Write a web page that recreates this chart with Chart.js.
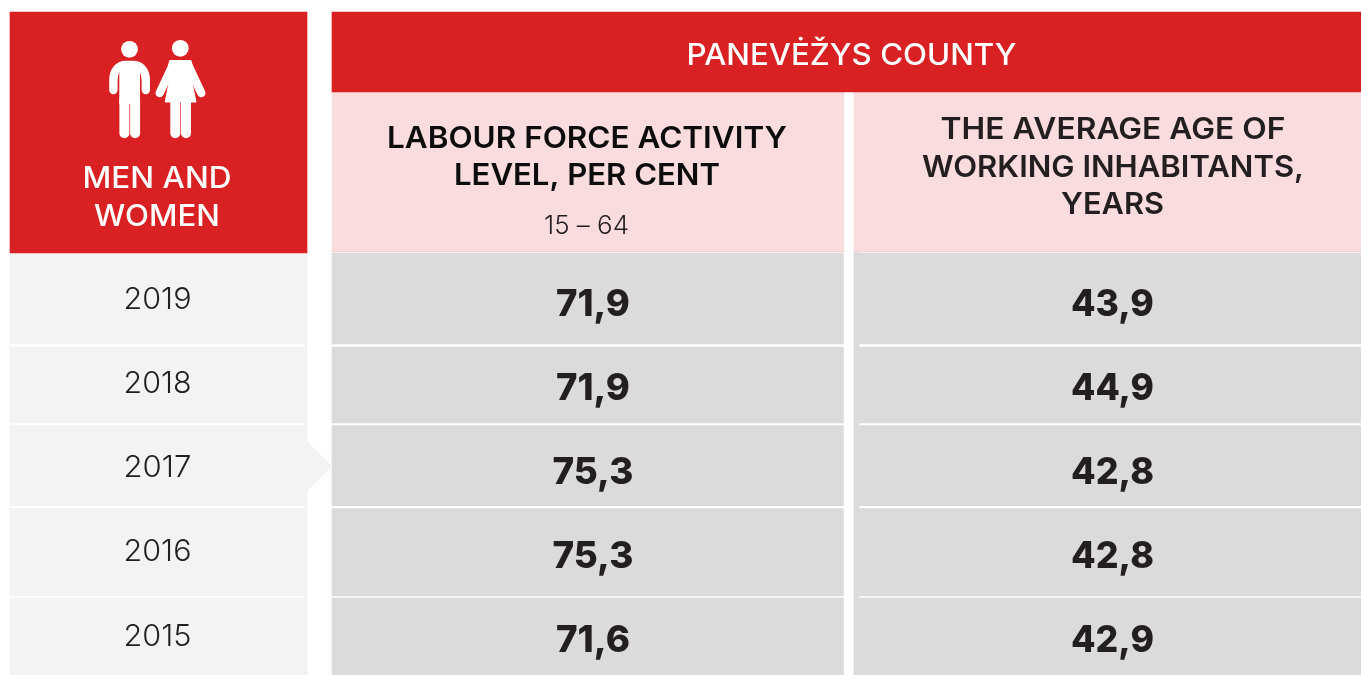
<!DOCTYPE html>
<html><head><meta charset="utf-8">
<style>html,body{margin:0;padding:0;background:#fff}canvas{display:block}</style>
<script src="https://cdn.jsdelivr.net/npm/chart.js@4/dist/chart.umd.min.js"></script>
</head><body><canvas id="c" width="1361" height="675"></canvas>
<script>
// ---- data ----
const years = ['2019','2018','2017','2016','2015'];
const labourForce = [71.9,71.9,75.3,75.3,71.6];
const averageAge = [43.9,44.9,42.8,42.8,42.9];
const regionTitle = 'PANEVĖŽYS COUNTY';
const cornerTitle = ['MEN AND','WOMEN'];
const labourTitle = ['LABOUR FORCE ACTIVITY','LEVEL, PER CENT'];
const labourRange = '15 – 64';
const ageTitle = ['THE AVERAGE AGE OF','WORKING INHABITANTS,','YEARS'];
// ---- layout (canvas-sized scales) ----
const rowSpans = [[253,344],[347,423],[425.7,505.7],[508.5,596],[598,675]];
const yearBase = [309,393,477,561,645.5];
const valueBase = [315.5,399.5,483.5,567.5,651.5];
const FONT = 'Inter, sans-serif';
const RED='#d92123', PINK='#f9dcdd', GREY='#dbdbdb', LIGHT='#f3f3f3', INK='#231f20';
const fmt = v => v.toFixed(1).replace('.',',');
function cols(l,r,spans,color){
  return {data:spans.map(s=>({x:(l+r)/2,y:s})),barThickness:r-l,backgroundColor:color,grouped:false,borderWidth:0,borderSkipped:false};
}
const datasets = [
  cols(10,307,[[12,253]],RED),
  cols(10,305,rowSpans,LIGHT),
  cols(305,307,[[253,675]],LIGHT),
  cols(332,1361,[[12,92]],RED),
  cols(332,844,[[92,252]],PINK),
  cols(854,1361,[[92,252]],PINK),
  cols(332,843.4,rowSpans,GREY),
  cols(854,859,[[252,675]],GREY),
  cols(859,1361,rowSpans,GREY)
];
function fit(ctx,text,cx,base,w,font,color){
  ctx.save();ctx.font=font;ctx.fillStyle=color;ctx.textAlign='left';ctx.textBaseline='alphabetic';
  const m=ctx.measureText(text).width;
  ctx.translate(cx-w/2,base);ctx.scale(w/m,1);ctx.fillText(text,0,0);ctx.restore();
}
const tablePlugin={id:'table',
  afterDatasetsDraw(chart){
    const {ctx,scales:{x,y}}=chart;
    const X=v=>x.getPixelForValue(v),Y=v=>y.getPixelForValue(v);
    // pointer on the middle row
    ctx.fillStyle=LIGHT;ctx.beginPath();ctx.moveTo(X(307),Y(441));ctx.lineTo(X(332),Y(466));ctx.lineTo(X(307),Y(491));ctx.closePath();ctx.fill();
    // pink bottom hairline
    ctx.fillStyle='#f6d3d4';ctx.fillRect(X(332),Y(251),X(844)-X(332),1);ctx.fillRect(X(854),Y(251),X(1361)-X(854),1);
    // people icon
    ctx.fillStyle='#fff';ctx.strokeStyle='#fff';ctx.lineCap='round';ctx.lineJoin='round';
    const dot=(cx,cy,r)=>{ctx.beginPath();ctx.arc(cx,cy,r,0,Math.PI*2);ctx.fill();};
    dot(129.5,49.3,8.4);dot(180.3,48.3,8.4);
    ctx.lineWidth=8.4;ctx.beginPath();ctx.moveTo(113.4,90);ctx.lineTo(113.4,80);ctx.bezierCurveTo(113.4,70,119,65,126,65);ctx.lineTo(133,65);ctx.bezierCurveTo(140,65,145.8,70,145.8,80);ctx.lineTo(145.8,90);ctx.stroke();
    ctx.fillRect(119.3,62,20.7,42);
    ctx.lineWidth=10;[124.4,135.1].forEach(lx=>{ctx.beginPath();ctx.moveTo(lx,100);ctx.lineTo(lx,133.3);ctx.stroke();});
    ctx.lineWidth=8.4;[[159.7,93,172.8,65],[201.3,93,188.2,65]].forEach(a=>{ctx.beginPath();ctx.moveTo(a[0],a[1]);ctx.lineTo(a[2],a[3]);ctx.stroke();});
    ctx.lineWidth=1;ctx.beginPath();ctx.moveTo(170,60.5);ctx.lineTo(191,60.5);ctx.lineTo(193,70);ctx.lineTo(190.5,75);ctx.lineTo(196,102);ctx.lineTo(165.2,102);ctx.lineTo(170.5,75);ctx.lineTo(168,70);ctx.closePath();ctx.fill();ctx.stroke();
    ctx.lineWidth=10;[175.3,186].forEach(lx=>{ctx.beginPath();ctx.moveTo(lx,100);ctx.lineTo(lx,133.3);ctx.stroke();});
    // headers
    const H='550 30px '+FONT, B='600 30.5px '+FONT;
    fit(ctx,regionTitle,X(851.5),Y(65),330,H,'#fff');
    fit(ctx,cornerTitle[0],X(157),Y(188),149,H,'#fff');
    fit(ctx,cornerTitle[1],X(157),Y(226),126,H,'#fff');
    fit(ctx,labourTitle[0],X(587),Y(147.5),400,B,'#0d0d0d');
    fit(ctx,labourTitle[1],X(587),Y(184.5),266,B,'#0d0d0d');
    fit(ctx,labourRange,X(586.5),Y(234),85,'350 25px '+FONT,INK);
    fit(ctx,ageTitle[0],X(1113),Y(139),345,B,INK);
    fit(ctx,ageTitle[1],X(1113),Y(177),382,B,INK);
    fit(ctx,ageTitle[2],X(1112.5),Y(214),103,B,INK);
    // body cells
    years.forEach((t,i)=>{
      fit(ctx,t,X(157.5),Y(yearBase[i]),68,'350 30px '+FONT,INK);
      fit(ctx,fmt(labourForce[i]),X(593),Y(valueBase[i]),labourForce[i]>75?81:74,'800 37.5px '+FONT,INK);
      fit(ctx,fmt(averageAge[i]),X(1112.5),Y(valueBase[i]),83,'800 37.5px '+FONT,INK);
    });
  }
};
new Chart(document.getElementById('c'),{
  type:'bar',
  data:{datasets},
  plugins:[tablePlugin],
  options:{
    responsive:false,animation:false,devicePixelRatio:1,
    layout:{padding:0},
    plugins:{legend:{display:false},tooltip:{enabled:false},title:{display:false}},
    scales:{
      x:{type:'linear',min:0,max:1361,offset:false,display:false,grid:{display:false}},
      y:{type:'linear',min:0,max:675,reverse:true,display:false,grid:{display:false}}
    }
  }
});
</script></body></html>
